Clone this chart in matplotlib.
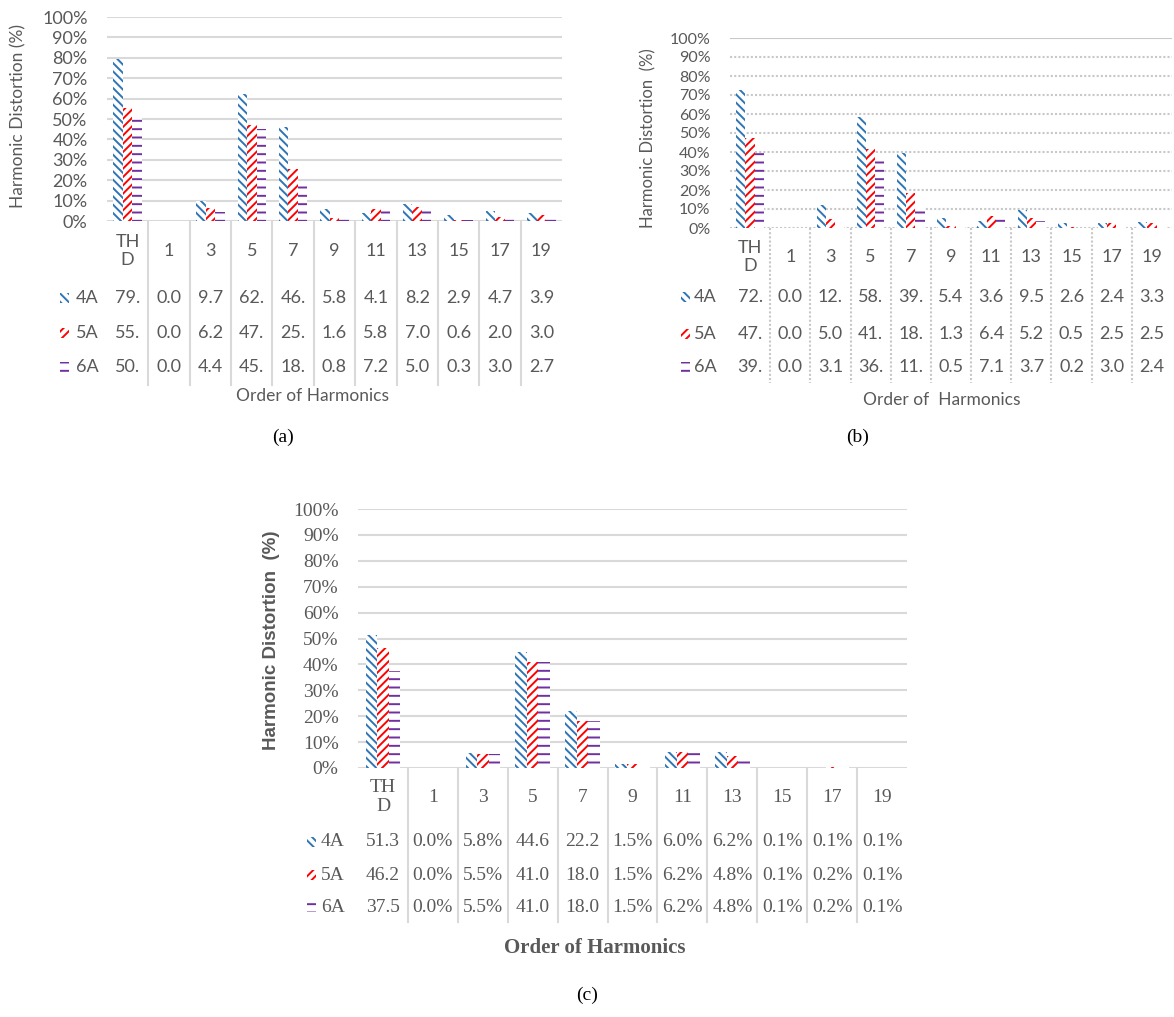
import numpy as np
import matplotlib
matplotlib.use('Agg')
import matplotlib.pyplot as plt
from matplotlib.patches import Rectangle
from matplotlib.transforms import blended_transform_factory

# data (percent)
orders = ['TH\nD', '1', '3', '5', '7', '9', '11', '13', '15', '17', '19']
series = ['4A', '5A', '6A']

a_4A = [79.3, 0.0, 9.7, 62.4, 46.1, 5.8, 4.1, 8.2, 2.9, 4.7, 3.9]
a_5A = [55.2, 0.0, 6.2, 47.3, 25.3, 1.6, 5.8, 7.0, 0.6, 2.0, 3.0]
a_6A = [50.4, 0.0, 4.4, 45.1, 18.2, 0.8, 7.2, 5.0, 0.3, 3.0, 2.7]

b_4A = [72.6, 0.0, 12.3, 58.4, 39.7, 5.4, 3.6, 9.5, 2.6, 2.4, 3.3]
b_5A = [47.2, 0.0, 5.0, 41.6, 18.5, 1.3, 6.4, 5.2, 0.5, 2.5, 2.5]
b_6A = [39.4, 0.0, 3.1, 36.8, 11.2, 0.5, 7.1, 3.7, 0.2, 3.0, 2.4]

c_4A = [51.3, 0.0, 5.8, 44.6, 22.2, 1.5, 6.0, 6.2, 0.1, 0.1, 0.1]
c_5A = [46.2, 0.0, 5.5, 41.0, 18.0, 1.5, 6.2, 4.8, 0.1, 0.2, 0.1]
c_6A = [37.5, 0.0, 5.5, 41.0, 18.0, 1.5, 6.2, 4.8, 0.1, 0.2, 0.1]

grey = '#595959'
line_grey = '#D9D9D9'
colors = ['#2E75B6', '#FF0000', '#7030A0']
hatches = ['\\\\\\\\', '////', '--']
plt.rcParams['hatch.linewidth'] = 1.4

W, H = 1174, 1017
fig = plt.figure(figsize=(W / 100, H / 100), dpi=100)


def panel(vals, left, top, right, bottom, font, fs_tick, fs_tab, head_y, row_y,
          tab_bottom, nchar, key_x, lab_x, dotted=False):
    ax = fig.add_axes([left / W, 1 - bottom / H, (right - left) / W, (bottom - top) / H])
    x = np.arange(len(orders))
    w = 0.23
    for i, v in enumerate(vals):
        ax.bar(x + (i - 1) * w, v, w, facecolor='white', edgecolor=colors[i],
               hatch=hatches[i], linewidth=0, zorder=2)
    ax.set_xlim(-0.5, len(orders) - 0.5)
    ax.set_ylim(0, 100)
    ticks = np.arange(0, 101, 10)
    ax.set_yticks(ticks)
    ax.set_yticklabels([f'{t}%' for t in ticks], family=font, fontsize=fs_tick, color=grey)
    ax.set_xticks([])
    ax.tick_params(axis='y', length=0, pad=14)
    for s in ax.spines.values():
        s.set_visible(False)
    gcol = '#C8C8C8' if dotted else line_grey
    for t in ticks:
        ls = (0, (1, 1)) if dotted and t < 100 else '-'
        ax.axhline(t, color=gcol, lw=1.5, ls=ls, zorder=1)

    trans = blended_transform_factory(ax.transData, fig.transFigure)
    for i, lab in enumerate(orders):
        ax.text(i, 1 - head_y / H, lab, transform=trans, ha='center', va='center',
                family=font, fontsize=fs_tab, color=grey)
    for k in range(len(orders) - 1):
        ax.plot([k + 0.5] * 2, [1 - bottom / H, 1 - tab_bottom / H], transform=trans,
                color=gcol, lw=1.5, ls=(0, (1, 1)) if dotted else '-', clip_on=False)
    for i, v in enumerate(vals):
        y = 1 - row_y[i] / H
        for j, val in enumerate(v):
            ax.text(j, y, f'{val:.1f}%'[:nchar], transform=trans, ha='center', va='center',
                    family=font, fontsize=fs_tab, color=grey)
        key = Rectangle((key_x / W, y - 5 / H), 9 / W, 10 / H, transform=fig.transFigure,
                        facecolor='white', edgecolor=colors[i], hatch=hatches[i], linewidth=0)
        fig.add_artist(key)
        fig.text(lab_x / W, y, series[i], ha='left', va='center',
                 family=font, fontsize=fs_tab, color=grey)
    return ax


# (a)
panel([a_4A, a_5A, a_6A], 107, 17, 562, 221, 'Lato', 13, 13, 251, [298, 333, 367],
      385, 3, 60, 76)
fig.text(18 / W, 1 - 116 / H, 'Harmonic Distortion (%)', rotation=90, ha='center',
         va='center', family='Lato', fontsize=12.5, color=grey)
fig.text(312 / W, 1 - 396 / H, 'Order of Harmonics', ha='center', va='center',
         family='Lato', fontsize=12.5, color=grey)

# (b)
panel([b_4A, b_5A, b_6A], 730, 38, 1172, 228, 'Lato', 11.5, 13, 257, [297, 334, 367],
      383, 3, 681, 694, dotted=True)
fig.text(648 / W, 1 - 138 / H, 'Harmonic Distortion  (%)', rotation=90, ha='center',
         va='center', family='Lato', fontsize=12, color=grey)
fig.text(942 / W, 1 - 400 / H, 'Order of  Harmonics', ha='center', va='center',
         family='Lato', fontsize=12.5, color=grey)

# (c)
panel([c_4A, c_5A, c_6A], 358, 509, 907, 768, 'Liberation Serif', 14, 14, 797,
      [842, 875, 907], 922, 4, 307, 321)
fig.text(271 / W, 1 - 640 / H, 'Harmonic Distortion  (%)', rotation=90, ha='center',
         va='center', family='Liberation Sans', fontweight='bold', fontsize=13.5, color=grey)
fig.text(595 / W, 1 - 948 / H, 'Order of Harmonics', ha='center', va='center',
         family='Liberation Serif', fontweight='bold', fontsize=15, color=grey)

fig.text(283 / W, 1 - 437 / H, '(a)', ha='center', va='center', family='Liberation Serif', fontsize=14)
fig.text(858 / W, 1 - 437 / H, '(b)', ha='center', va='center', family='Liberation Serif', fontsize=14)
fig.text(587 / W, 1 - 995 / H, '(c)', ha='center', va='center', family='Liberation Serif', fontsize=14)

fig.savefig('out.png', dpi=100)
